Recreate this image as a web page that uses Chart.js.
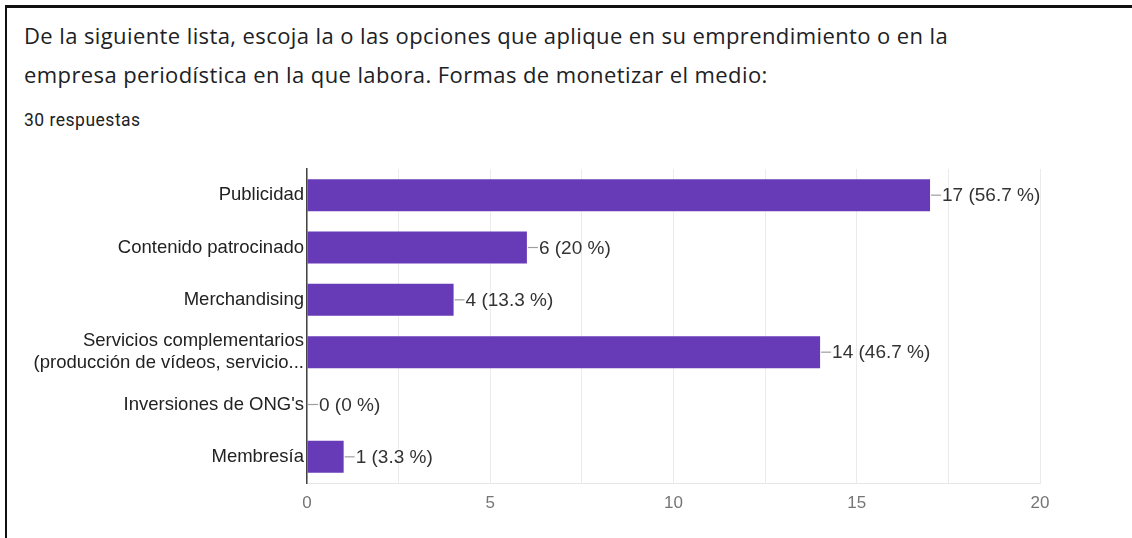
<!DOCTYPE html>
<html>
<head>
<meta charset="utf-8">
<script src="https://cdn.jsdelivr.net/npm/chart.js@4.4.1/dist/chart.umd.min.js"></script>
<style>
    html, body { margin: 0; padding: 0; background: #fff; }
    #wrap { position: relative; width: 1132px; height: 538px; overflow: hidden; }
    #frame { position: absolute; left: 5px; top: 5px; width: 1140px; height: 600px; border-left: 2px solid #111; border-top: 3px solid #111; }
    #title { position: absolute; left: 24px; top: 16px; width: 1100px; font-family: "Open Sans", sans-serif; font-size: 22px; letter-spacing: 0.4px; line-height: 39px; color: #202124; white-space: nowrap; }
    #sub { position: absolute; left: 24px; top: 110px; font-family: Roboto, sans-serif; font-size: 17.5px; letter-spacing: 0.5px; line-height: 20px; color: #202124; }
    #chart { position: absolute; left: 0; top: 0; }
</style>
</head>
<body>
<div id="wrap">
    <div id="frame"></div>
    <div id="title">De la siguiente lista, escoja la o las opciones que aplique en su emprendimiento o en la<br>empresa periodística en la que labora. Formas de monetizar el medio:</div>
    <div id="sub">30 respuestas</div>
    <canvas id="chart" width="1132" height="538"></canvas>
</div>
<script>
    "use strict";

    // Datos
    var categorias = [
        "Publicidad",
        "Contenido patrocinado",
        "Merchandising",
        ["Servicios complementarios", "(producción de vídeos, servicio..."],
        "Inversiones de ONG's",
        "Membresía"
    ];
    var respuestas = [17, 6, 4, 14, 0, 1];
    var porcentajes = ["56.7", "20", "13.3", "46.7", "0", "3.3"];
    var ticksX = [0, 5, 10, 15, 20];

    // Etiquetas al final de cada barra
    var etiquetasBarra = {
        id: "etiquetasBarra",
        afterDatasetsDraw: function (chart) {
            var ctx = chart.ctx;
            var meta = chart.getDatasetMeta(0);
            ctx.save();
            ctx.font = "19px 'Liberation Sans', Arial, sans-serif";
            ctx.textBaseline = "middle";
            ctx.textAlign = "left";
            meta.data.forEach(function (bar, i) {
                var x = bar.x + 1;
                var y = bar.y;
                ctx.strokeStyle = "#9e9e9e";
                ctx.lineWidth = 1.2;
                ctx.beginPath();
                ctx.moveTo(x, y);
                ctx.lineTo(x + 10, y);
                ctx.stroke();
                ctx.fillStyle = "#333";
                ctx.fillText(respuestas[i] + " (" + porcentajes[i] + " %)", x + 11, y + 1);
            });
            ctx.restore();
        }
    };

    var ctx = document.getElementById("chart").getContext("2d");
    var grafico = new Chart(ctx, {
        type: "bar",
        data: {
            labels: categorias,
            datasets: [{
                data: respuestas,
                backgroundColor: "#673ab7",
                borderWidth: 0,
                barPercentage: 0.61,
                categoryPercentage: 1
            }]
        },
        options: {
            indexAxis: "y",
            responsive: false,
            animation: false,
            layout: { padding: { top: 169, right: 92, bottom: 0, left: 0 } },
            plugins: {
                legend: { display: false },
                tooltip: { enabled: false }
            },
            scales: {
                x: {
                    min: ticksX[0],
                    max: ticksX[ticksX.length - 1],
                    ticks: {
                        stepSize: 2.5,
                        padding: 10,
                        color: "#757575",
                        font: { family: "'Liberation Sans', Arial, sans-serif", size: 17 },
                        callback: function (v) { return ticksX.indexOf(v) >= 0 ? v : ""; }
                    },
                    grid: { color: "#ebebeb", drawTicks: false },
                    border: { color: "#e6e6e6" },
                    afterFit: function (s) { s.height = 55; }
                },
                y: {
                    ticks: {
                        padding: 3,
                        color: "#222",
                        font: { family: "'Liberation Sans', Arial, sans-serif", size: 18.5, lineHeight: 1.2 }
                    },
                    grid: { display: false, drawTicks: false },
                    border: { color: "#444", width: 1.5 },
                    afterFit: function (s) { s.width = 307; }
                }
            }
        },
        plugins: [etiquetasBarra]
    });
</script>
</body>
</html>
